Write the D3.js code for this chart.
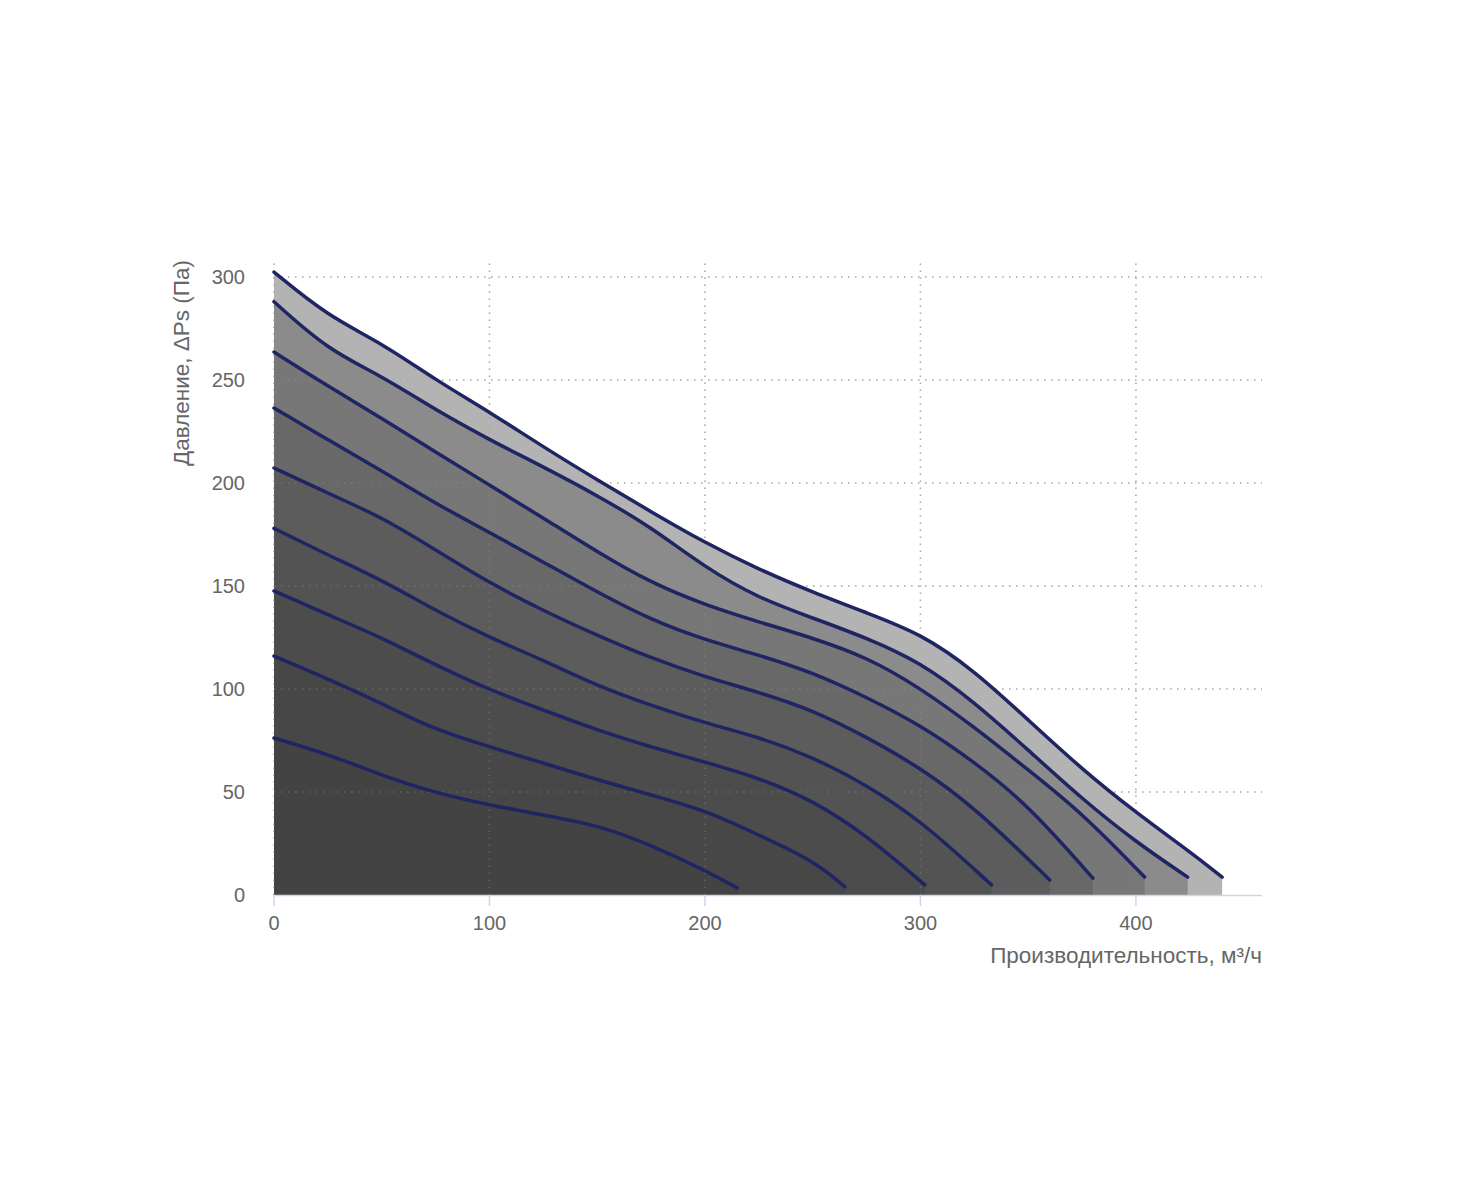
<!DOCTYPE html>
<html>
<head>
<meta charset="utf-8">
<script src="https://cdn.jsdelivr.net/npm/d3@7"></script>
<style>
  html, body { margin: 0; padding: 0; background: #ffffff; }
  svg { display: block; font-family: "Liberation Sans", Arial, sans-serif; }
</style>
</head>
<body>
<svg id="chart" width="1467" height="1200"></svg>
<script>
// ---- Data ----
const xTicks = [0, 100, 200, 300, 400];
const yTicks = [0, 50, 100, 150, 200, 250, 300];
const xTitle = "Производительность, м³/ч";
const yTitle = "Давление, ΔPs (Па)";

const curve1 = [[0,302.4],[25,281],[50,268],[75,250],[100,234.5],[125,217.5],[150,201.5],[175,186],[200,171],[225,158],[250,147],[275,137],[300,127],[325,109],[350,85],[375,61],[400,40],[425,21],[440,8.7]];
const curve2 = [[0,288],[25,264.6],[50,252],[75,235.4],[100,221],[125,207.8],[150,194],[175,178.6],[200,159],[225,144],[250,134.5],[275,124.8],[300,113],[325,93.7],[350,70.4],[375,46.6],[400,25.7],[424,8.7]];
const curve3 = [[0,263.6],[25,247],[50,231.5],[75,215],[100,199],[125,183],[150,166.5],[175,151.5],[200,140.8],[225,132.5],[250,124.8],[275,115.5],[300,100.5],[325,81.5],[350,60.7],[375,39.8],[404,8.7]];
const curve4 = [[0,236.4],[25,221],[50,206],[75,190],[100,176],[125,161.6],[150,147],[175,133.5],[200,123.8],[225,116.5],[250,108],[275,96],[300,82.5],[325,64.6],[350,43.7],[380,8.2]];
const curve5 = [[0,207.3],[25,195],[50,183.5],[75,167.5],[100,151.5],[125,138],[150,126],[175,115],[200,105.8],[225,98.5],[250,89.8],[275,76.7],[300,61.7],[325,42.7],[360,7.3]];
const curve6 = [[0,178],[25,165],[50,153],[75,138],[100,125],[125,114],[150,101.5],[175,92],[200,83.5],[225,76.7],[250,67],[275,53.4],[300,36.4],[333,4.9]];
const curve7 = [[0,147.6],[25,136],[50,125],[75,111.6],[100,99.5],[125,89.8],[150,80],[175,71.8],[200,64.6],[225,56.8],[250,46],[275,29],[302,4.9]];
const curve8 = [[0,116],[25,105],[50,93],[75,80],[100,72],[125,64],[150,56],[175,48.5],[200,41.3],[225,29],[250,17],[265,3.9]];
const curve9 = [[0,76.2],[25,68.4],[50,58],[75,49.5],[100,43.7],[125,38.8],[150,34],[175,24.3],[200,12],[215,3.4]];

const seriesList = [curve1, curve2, curve3, curve4, curve5, curve6, curve7, curve8, curve9];
const fillColors = ["#b3b3b3", "#8b8b8b", "#777777", "#686868", "#5c5c5c", "#535353", "#4c4c4c", "#474747", "#434343"];

// ---- Layout ----
const svg = d3.select("#chart");
const x = d3.scaleLinear().domain([0, 458.5]).range([274, 1262]);
const y = d3.scaleLinear().domain([0, 300]).range([895, 277]);
const yTop = 309;

function drawGrid(g, color, opacity) {
  g.selectAll(".hg").data(yTicks.filter(d => d > 0)).join("line")
    .attr("x1", x(0)).attr("x2", x.range()[1])
    .attr("y1", d => y(d)).attr("y2", d => y(d))
    .attr("stroke", color).attr("stroke-width", 1.5)
    .attr("stroke-dasharray", "1.5,5.5").attr("opacity", opacity);
  g.selectAll(".vg").data(xTicks).join("line")
    .attr("x1", d => x(d)).attr("x2", d => x(d))
    .attr("y1", y(0)).attr("y2", y(yTop))
    .attr("stroke", color).attr("stroke-width", 1.5)
    .attr("stroke-dasharray", "1.5,5.5").attr("opacity", opacity);
}
drawGrid(svg.append("g"), "#b8b8b8", 1);

const curveType = d3.curveBasis;
const area = d3.area().x(d => x(d[0])).y0(y(0)).y1(d => y(d[1])).curve(curveType);
const areasG = svg.append("g");
seriesList.forEach((s, i) => {
  areasG.append("path").attr("d", area(s)).attr("fill", fillColors[i]);
});

drawGrid(svg.append("g"), "#9a9a9a", 0.35);

const line = d3.line().x(d => x(d[0])).y(d => y(d[1])).curve(curveType);
const linesG = svg.append("g");
seriesList.forEach((s) => {
  linesG.append("path").attr("d", line(s))
    .attr("fill", "none").attr("stroke", "#1f2562")
    .attr("stroke-width", 3.5).attr("stroke-linecap", "round").attr("stroke-linejoin", "round");
});

// X axis
const axisColor = "#ccd6eb";
svg.append("line").attr("x1", x(0)).attr("x2", x.range()[1])
  .attr("y1", y(0) + 0.5).attr("y2", y(0) + 0.5)
  .attr("stroke", axisColor).attr("stroke-width", 1.5);
svg.selectAll(".xt").data(xTicks).join("line")
  .attr("x1", d => x(d)).attr("x2", d => x(d))
  .attr("y1", y(0)).attr("y2", y(0) + 11)
  .attr("stroke", axisColor).attr("stroke-width", 1.5);
svg.selectAll(".xl").data(xTicks).join("text")
  .attr("x", d => x(d)).attr("y", 930)
  .attr("text-anchor", "middle").attr("fill", "#666666")
  .attr("font-size", 20).text(d => d);

svg.selectAll(".yl").data(yTicks).join("text")
  .attr("x", 245).attr("y", d => y(d) + 7)
  .attr("text-anchor", "end").attr("fill", "#666666")
  .attr("font-size", 20).text(d => d);

svg.append("text").attr("x", 1262).attr("y", 963)
  .attr("text-anchor", "end").attr("fill", "#666666")
  .attr("font-size", 22.5).text(xTitle);
svg.append("text")
  .attr("transform", `translate(189, 363) rotate(-90)`)
  .attr("text-anchor", "middle").attr("fill", "#666666")
  .attr("font-size", 22.5).text(yTitle);
</script>
</body>
</html>
